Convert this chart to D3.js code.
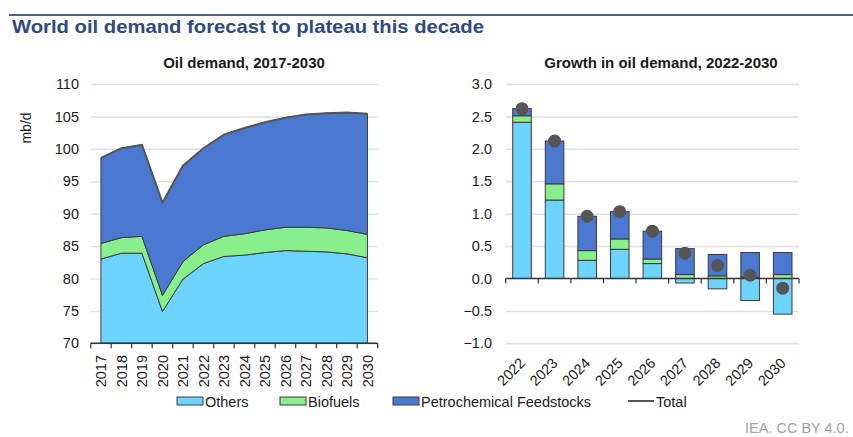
<!DOCTYPE html>
<html>
<head>
<meta charset="UTF-8">
<title>World oil demand</title>
<script src="https://d3js.org/d3.v7.min.js"></script>
<style>
  body { margin: 0; background: #fff; }
  text { font-family: "Liberation Sans", Arial, sans-serif; fill: #1a1a1a; }
</style>
</head>
<body>
<div id="chart"></div>
<script>
// left chart: oil demand, mb/d
var years = [2017, 2018, 2019, 2020, 2021, 2022, 2023, 2024, 2025, 2026, 2027, 2028, 2029, 2030];
var demandOthers = [83.0, 83.9, 83.9, 74.9, 79.9, 82.3, 83.4, 83.6, 84.0, 84.3, 84.2, 84.1, 83.8, 83.2];
var demandBiofuels = [2.4, 2.4, 2.6, 2.5, 2.7, 2.9, 3.1, 3.3, 3.5, 3.6, 3.7, 3.7, 3.6, 3.6];
var demandPetchem = [13.2, 13.8, 14.1, 14.3, 14.8, 14.9, 15.7, 16.3, 16.6, 16.9, 17.4, 17.7, 18.2, 18.6];
var demandTicks = [70, 75, 80, 85, 90, 95, 100, 105, 110];

// right chart: growth in oil demand, mb/d
var growthYears = ["2022", "2023", "2024", "2025", "2026", "2027", "2028", "2029", "2030"];
var growthOthers = [2.41, 1.21, 0.28, 0.45, 0.23, -0.07, -0.16, -0.34, -0.55];
var growthBiofuels = [0.10, 0.25, 0.15, 0.16, 0.07, 0.06, 0.04, 0.02, 0.06];
var growthPetchem = [0.11, 0.66, 0.53, 0.42, 0.43, 0.40, 0.33, 0.38, 0.34];
var growthTotal = [2.62, 2.12, 0.96, 1.03, 0.73, 0.39, 0.20, 0.05, -0.15];
var growthTicks = [-1.0, -0.5, 0.0, 0.5, 1.0, 1.5, 2.0, 2.5, 3.0];

var seriesNames = ["Others", "Biofuels", "Petrochemical Feedstocks"];
var colours = {"Others": "#6dd3ff", "Biofuels": "#88ef8c", "Petrochemical Feedstocks": "#4b78d0"};
var edge = "#3a3a3a";

var svg = d3.select("#chart").append("svg")
    .attr("width", 853)
    .attr("height", 437);

// heading with rule above it
svg.append("line")
    .attr("x1", 9).attr("x2", 853).attr("y1", 15).attr("y2", 15)
    .attr("stroke", "#4a6596").attr("stroke-width", 2);
svg.append("text")
    .attr("x", 12).attr("y", 33)
    .attr("font-size", "18.5px").attr("font-weight", "bold")
    .attr("textLength", 472).attr("lengthAdjust", "spacingAndGlyphs")
    .style("fill", "#2d4a86")
    .text("World oil demand forecast to plateau this decade");

// ---------- left chart ----------
var plotTop = 84, plotBottom = 343.3;

var x1 = d3.scaleBand().domain(years).range([90.7, 377.7]).padding(0);
var y1 = d3.scaleLinear().domain([70, 110]).range([plotBottom, plotTop]);
var cx1 = function(yr) { return x1(yr) + x1.bandwidth() / 2; };

svg.append("text")
    .attr("x", 244).attr("y", 68)
    .attr("text-anchor", "middle")
    .attr("font-size", "15px").attr("font-weight", "bold")
    .text("Oil demand, 2017-2030");

// gridlines
svg.append("g")
    .attr("transform", "translate(90.7,0)")
    .call(d3.axisLeft(y1).tickValues(demandTicks).tickSize(-(377.7 - 90.7)).tickFormat(""))
    .call(function(g) {
        g.select(".domain").remove();
        g.selectAll("line").attr("stroke", "#e0e0e0").attr("stroke-width", 1.5);
    });

// y tick labels
svg.append("g")
    .attr("transform", "translate(79,0)")
    .call(d3.axisLeft(y1).tickValues(demandTicks).tickSize(0).tickPadding(0).tickFormat(d3.format("d")))
    .call(function(g) {
        g.select(".domain").remove();
        g.selectAll("text").attr("font-size", "14.5px").attr("font-family", "Liberation Sans, Arial, sans-serif").attr("fill", "#1a1a1a");
    });

svg.append("text")
    .attr("transform", "translate(31,128) rotate(-90)")
    .attr("text-anchor", "middle")
    .attr("font-size", "14px")
    .text("mb/d");

// stacked areas
var leftRows = years.map(function(yr, i) {
    return {year: yr, "Others": demandOthers[i], "Biofuels": demandBiofuels[i], "Petrochemical Feedstocks": demandPetchem[i]};
});
var leftStack = d3.stack().keys(seriesNames)(leftRows);

var area = d3.area()
    .x(function(d) { return cx1(d.data.year); })
    .y0(function(d) { return d[0] === 0 ? plotBottom : y1(d[0]); })
    .y1(function(d) { return y1(d[1]); });

svg.append("g").selectAll("path")
    .data(leftStack)
    .join("path")
    .attr("d", area)
    .attr("fill", function(d) { return colours[d.key]; })
    .attr("stroke", edge)
    .attr("stroke-width", 1)
    .attr("stroke-linejoin", "round");

// total line
var totalLine = d3.line()
    .x(function(d) { return cx1(d.data.year); })
    .y(function(d) { return y1(d[1]); });
svg.append("path")
    .datum(leftStack[2])
    .attr("d", totalLine)
    .attr("fill", "none")
    .attr("stroke", "#555")
    .attr("stroke-width", 2);

// x axis with boundary ticks
var xAxis1 = svg.append("g").attr("transform", "translate(0," + plotBottom + ")");
xAxis1.append("line")
    .attr("x1", 90.7).attr("x2", 377.7)
    .attr("stroke", "#333").attr("stroke-width", 1.5);
var bounds1 = years.map(function(yr) { return x1(yr); }).concat([x1(2030) + x1.bandwidth()]);
xAxis1.selectAll(".tk").data(bounds1).join("line")
    .attr("x1", function(d) { return d; }).attr("x2", function(d) { return d; })
    .attr("y1", 0).attr("y2", 5)
    .attr("stroke", "#333").attr("stroke-width", 1.2);
svg.append("g").selectAll("text")
    .data(years)
    .join("text")
    .attr("transform", function(d) { return "translate(" + (cx1(d) + 5.5) + ",355) rotate(-90)"; })
    .attr("text-anchor", "end")
    .attr("font-size", "14.5px")
    .text(function(d) { return d; });

// ---------- right chart ----------
var x2 = d3.scaleBand().domain(growthYears).range([505.7, 799]).paddingInner(0.43).paddingOuter(0.215);
var y2 = d3.scaleLinear().domain([-1, 3]).range([plotBottom, plotTop]);

svg.append("text")
    .attr("x", 661).attr("y", 68)
    .attr("text-anchor", "middle")
    .attr("font-size", "15px").attr("font-weight", "bold")
    .text("Growth in oil demand, 2022-2030");

svg.append("g")
    .attr("transform", "translate(505.7,0)")
    .call(d3.axisLeft(y2).tickValues(growthTicks.filter(function(t) { return t !== 0; })).tickSize(-(799 - 505.7)).tickFormat(""))
    .call(function(g) {
        g.select(".domain").remove();
        g.selectAll("line").attr("stroke", "#e0e0e0").attr("stroke-width", 1.5);
    });

svg.append("g")
    .attr("transform", "translate(492,0)")
    .call(d3.axisLeft(y2).tickValues(growthTicks).tickSize(0).tickPadding(0).tickFormat(d3.format(".1f")))
    .call(function(g) {
        g.select(".domain").remove();
        g.selectAll("text").attr("font-size", "14.5px").attr("font-family", "Liberation Sans, Arial, sans-serif").attr("fill", "#1a1a1a");
    });

var rightRows = growthYears.map(function(yr, i) {
    return {year: yr, "Others": growthOthers[i], "Biofuels": growthBiofuels[i], "Petrochemical Feedstocks": growthPetchem[i]};
});
var rightStack = d3.stack().keys(seriesNames).offset(d3.stackOffsetDiverging)(rightRows);

svg.append("g").selectAll("g")
    .data(rightStack)
    .join("g")
    .attr("fill", function(d) { return colours[d.key]; })
    .selectAll("rect")
    .data(function(d) { return d; })
    .join("rect")
    .attr("x", function(d) { return x2(d.data.year); })
    .attr("width", x2.bandwidth())
    .attr("y", function(d) { return y2(Math.max(d[0], d[1])); })
    .attr("height", function(d) { return Math.abs(y2(d[0]) - y2(d[1])); })
    .attr("stroke", edge)
    .attr("stroke-width", 1);

// zero axis with boundary ticks
var y0 = y2(0);
var xAxis2 = svg.append("g").attr("transform", "translate(0," + y0 + ")");
xAxis2.append("line")
    .attr("x1", 505.7).attr("x2", 799)
    .attr("stroke", "#333").attr("stroke-width", 1.5);
var step2 = x2.step();
var bounds2 = d3.range(growthYears.length + 1).map(function(i) { return 505.7 + i * step2; });
xAxis2.selectAll(".tk").data(bounds2).join("line")
    .attr("x1", function(d) { return d; }).attr("x2", function(d) { return d; })
    .attr("y1", 0).attr("y2", 5)
    .attr("stroke", "#333").attr("stroke-width", 1.2);

// total dots
svg.append("g").selectAll("circle")
    .data(growthTotal)
    .join("circle")
    .attr("cx", function(d, i) { return x2(growthYears[i]) + x2.bandwidth() / 2; })
    .attr("cy", function(d) { return y2(d); })
    .attr("r", 6.5)
    .attr("fill", "#555");

svg.append("g").selectAll("text")
    .data(growthYears)
    .join("text")
    .attr("transform", function(d) {
        return "translate(" + (x2(d) + x2.bandwidth() / 2 + 4) + ",364) rotate(-45)";
    })
    .attr("text-anchor", "end")
    .attr("font-size", "14.5px")
    .text(function(d) { return d; });

// ---------- legend ----------
var legendItems = [
    {name: "Others", x: 177, type: "box"},
    {name: "Biofuels", x: 280, type: "box"},
    {name: "Petrochemical Feedstocks", x: 393, type: "box"},
    {name: "Total", x: 628, type: "line"}
];
var legend = svg.append("g").attr("transform", "translate(0,401)");
legendItems.forEach(function(item) {
    if (item.type === "box") {
        legend.append("rect")
            .attr("x", item.x).attr("y", -4).attr("width", 26).attr("height", 8)
            .attr("fill", colours[item.name]).attr("stroke", edge).attr("stroke-width", 1);
    } else {
        legend.append("line")
            .attr("x1", item.x).attr("x2", item.x + 26).attr("y1", 0).attr("y2", 0)
            .attr("stroke", "#555").attr("stroke-width", 2);
    }
    legend.append("text")
        .attr("x", item.x + 28).attr("y", 5.5)
        .attr("font-size", "14.5px")
        .text(item.name);
});

svg.append("text")
    .attr("x", 745).attr("y", 433)
    .attr("font-size", "14.5px")
    .style("fill", "#a0a0a0")
    .text("IEA. CC BY 4.0.");
</script>
</body>
</html>
